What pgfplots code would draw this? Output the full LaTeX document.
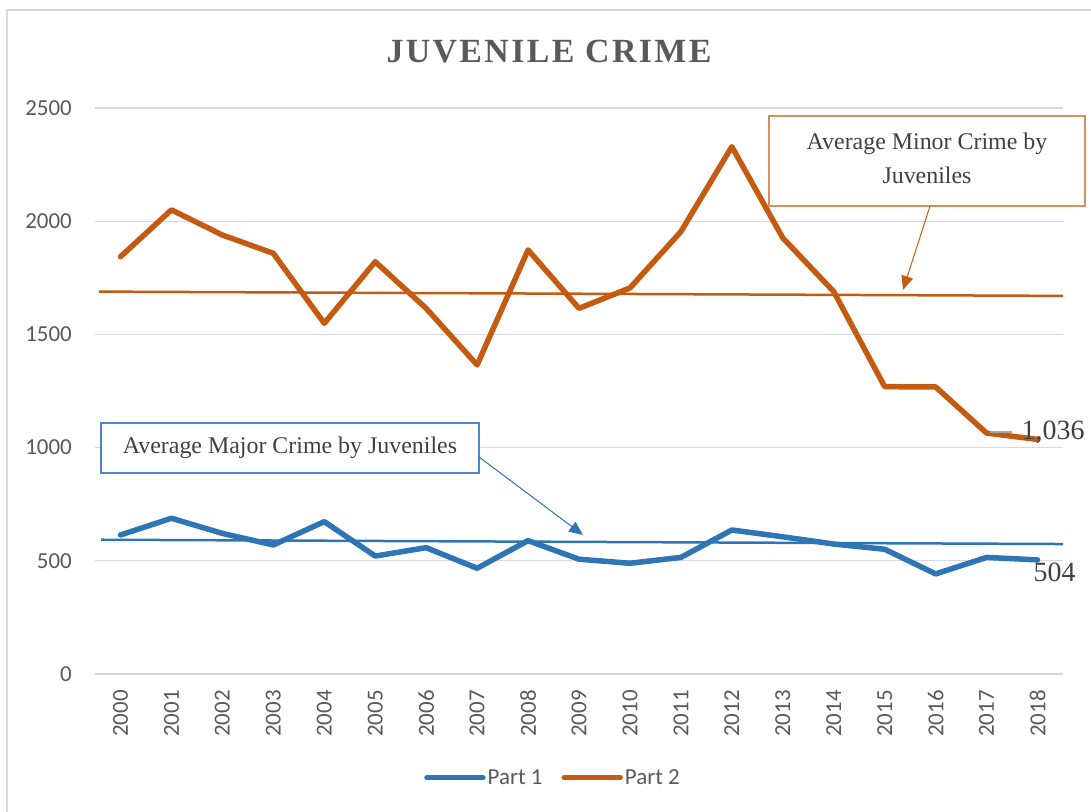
\documentclass[border=0pt]{standalone}
\usepackage{pgfplots}
\pgfplotsset{compat=1.18}
\usepackage{fontspec}
\setmainfont{Liberation Serif}
\newfontfamily\carlito{Carlito}
\newfontfamily\titlefont[LetterSpace=7]{Liberation Serif}
\usetikzlibrary{arrows.meta}
\definecolor{cblue}{HTML}{2E75B6}
\definecolor{corange}{HTML}{C55A11}
\definecolor{gridc}{HTML}{D9D9D9}
\definecolor{txt}{HTML}{595959}
\definecolor{dtxt}{HTML}{404040}
\definecolor{oborder}{HTML}{D98E5E}
\definecolor{bborder}{HTML}{4A88C8}
\begin{document}
\begin{tikzpicture}
\begin{scope}[x=1bp,y=1bp]
\useasboundingbox (0,0) rectangle (1091,812);
\draw[gridc, line width=2bp] (7,0) -- (7,802) -- (1091,802);
\node[text=txt, font=\titlefont\bfseries\fontsize{34}{40}\selectfont] at (549,760) {JUVENILE CRIME};
\end{scope}
\begin{axis}[
  at={(95bp,138bp)}, anchor=south west,
  scale only axis, width=968bp, height=566bp,
  xmin=-0.5, xmax=18.5, ymin=0, ymax=2500,
  xtick={0,...,18},
  xticklabels={2000,2001,2002,2003,2004,2005,2006,2007,2008,2009,2010,2011,2012,2013,2014,2015,2016,2017,2018},
  ytick={0,500,1000,1500,2000,2500},
  ymajorgrids, grid style={gridc, line width=1.3bp},
  axis line style={draw=none},
  major tick length=0pt,
  tick label style={font=\carlito\fontsize{23}{27}\selectfont, text=txt},
  /pgf/number format/assume math mode=true,
  /pgf/number format/1000 sep={},
  yticklabel style={anchor=east, inner sep=0pt},
  yticklabel shift=23bp,
  xticklabel style={rotate=90, anchor=east, inner sep=0pt},
  xticklabel shift=16bp,
  clip=false,
  legend style={at={(0.4731,-0.1832)}, anchor=center, draw=none, fill=none,
    legend columns=2, font=\carlito\fontsize{23}{27}\selectfont, text=txt,
    /tikz/every even column/.append style={column sep=17bp},
    nodes={inner sep=2bp}},
  legend image code/.code={\draw[#1, line cap=round] (0bp,0bp) -- (56bp,0bp);},
]
\addplot[cblue, line width=5.5bp, line join=round, line cap=round] coordinates {
 (0,614) (1,688) (2,621) (3,570) (4,673) (5,521) (6,558) (7,467) (8,589) (9,507)
 (10,489) (11,515) (12,636) (13,606) (14,574) (15,551) (16,442) (17,515) (18,504)};
\addlegendentry{Part 1}
\addplot[corange, line width=5.5bp, line join=round, line cap=round] coordinates {
 (0,1843) (1,2050) (2,1939) (3,1858) (4,1549) (5,1821) (6,1615) (7,1365) (8,1873) (9,1615)
 (10,1705) (11,1954) (12,2329) (13,1926) (14,1689) (15,1269) (16,1268) (17,1064) (18,1036)};
\addlegendentry{Part 2}
\addplot[cblue, line width=2.5bp, forget plot] coordinates {(-0.38,593) (18.5,574)};
\addplot[corange, line width=2.5bp, forget plot] coordinates {(-0.42,1689) (18.5,1670)};
\draw[gray!70, line width=2bp] ([xshift=-48bp,yshift=7bp]axis cs:18,1036) -- ([xshift=-26bp,yshift=7bp]axis cs:18,1036);
\node[anchor=west, inner sep=0pt, text=dtxt, font=\fontsize{28}{32}\selectfont, xshift=-16bp, yshift=7bp] at (axis cs:18,1036) {1,036};
\node[anchor=west, inner sep=0pt, text=dtxt, font=\fontsize{28}{32}\selectfont, xshift=-4bp, yshift=-12.6bp] at (axis cs:18,504) {504};
\end{axis}
\begin{scope}[x=1bp,y=1bp]
\draw[oborder, line width=1.3bp, fill=white] (769,606) rectangle (1085,696);
\node[text=dtxt, align=center, font=\fontsize{24}{34}\selectfont] at (927,654) {Average Minor Crime by\\Juveniles};
\draw[corange, line width=1bp, -{Triangle[length=14bp,width=12bp]}] (930,606) -- (903,522);
\draw[bborder, line width=1.3bp, fill=white] (101,339) rectangle (479,389);
\node[text=dtxt, font=\fontsize{24}{28}\selectfont] at (290,364) {Average Major Crime by Juveniles};
\draw[cblue, line width=1bp, -{Triangle[length=14bp,width=12bp]}] (479,355) -- (583,277);
\end{scope}
\end{tikzpicture}
\end{document}
